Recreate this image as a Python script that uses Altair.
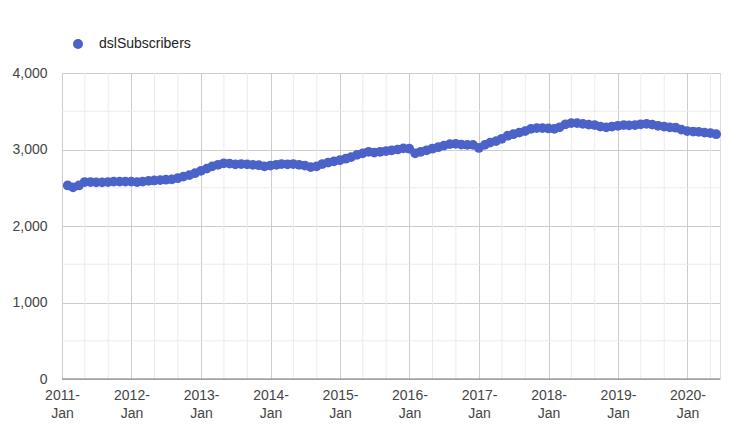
import altair as alt
import pandas as pd

# Monthly observations (month-end dates), 2011-01 .. 2020-05
months = (pd.date_range("2011-01-01", periods=113, freq="MS") + pd.offsets.MonthEnd(0)).strftime("%Y-%m-%d").tolist()
dsl_subscribers = [
    2530, 2505, 2530, 2575, 2575, 2570, 2570, 2575, 2580, 2580, 2580,
    2580, 2575, 2580, 2590, 2595, 2600, 2605, 2610, 2625, 2645, 2665, 2690,
    2720, 2750, 2780, 2800, 2820, 2815, 2805, 2810, 2805, 2800, 2795, 2780,
    2790, 2800, 2810, 2805, 2810, 2800, 2790, 2770, 2780, 2810, 2830, 2845,
    2860, 2880, 2900, 2930, 2950, 2970, 2960, 2970, 2980, 2990, 3000, 3015,
    3010, 2950, 2970, 2990, 3010, 3030, 3050, 3070, 3075, 3065, 3060, 3060,
    3020, 3060, 3090, 3110, 3140, 3180, 3200, 3220, 3240, 3270, 3280, 3280,
    3275, 3270, 3290, 3330, 3345, 3345, 3335, 3325, 3320, 3300, 3290, 3300,
    3310, 3320, 3315, 3320, 3330, 3335, 3325, 3310, 3300, 3290, 3285, 3260,
    3240, 3235, 3230, 3220, 3215, 3200,
]
series_name = "dslSubscribers"

axis_start = "2011-01-01"
axis_end = "2020-06-20"
major_years = list(range(2011, 2021))
minor_x_dates = [d for d in pd.date_range("2011-01-01", "2020-06-01", freq="MS").strftime("%Y-%m-%d")
                 if d[5:7] in ("05", "09")]
major_y_ticks = [0, 1000, 2000, 3000, 4000]
minor_y_ticks = [500, 1500, 2500, 3500]

def ms(s):
    return int(pd.Timestamp(s).value // 10**6)

df = pd.DataFrame({"month": months, "value": dsl_subscribers, "series": series_name})

FONT = "Liberation Sans"
BLUE = "#4b63c8"

xscale = alt.Scale(type="utc", domain=[ms(axis_start), ms(axis_end)], nice=False, padding=0)
yscale = alt.Scale(domain=[0, 4000], nice=False)

xaxis = alt.Axis(
    values=[ms(f"{y}-01-01") for y in major_years],
    labelExpr="[utcFormat(datum.value, '%Y-'), utcFormat(datum.value, '%b')]",
    grid=True, gridColor="#cccccc", domain=False, ticks=False, tickSize=0,
    labelPadding=9, labelLineHeight=18, labelFont=FONT, labelFontSize=14,
    labelColor="#444444", labelBaseline="top", labelFlush=False, title=None,
)
yaxis = alt.Axis(
    values=major_y_ticks, format=",.0f", grid=True, gridColor="#cccccc",
    domain=False, ticks=False, tickSize=0, labelPadding=15, labelFont=FONT,
    labelFontSize=14, labelColor="#444444", title=None,
)

X = alt.X("month:T", scale=xscale, axis=xaxis)
Y = alt.Y("value:Q", scale=yscale, axis=yaxis)

minor_v = alt.Chart(pd.DataFrame({"month": minor_x_dates})).mark_rule(
    color="#ebebeb", strokeWidth=1).encode(x=X)
minor_h = alt.Chart(pd.DataFrame({"value": minor_y_ticks})).mark_rule(
    color="#ebebeb", strokeWidth=1).encode(y=Y)
baseline = alt.Chart(pd.DataFrame({"value": [0]})).mark_rule(
    color="#777777", strokeWidth=1).encode(y=Y)

points = alt.Chart(df).mark_circle(size=95, opacity=1).encode(
    x=X, y=Y,
    color=alt.Color("series:N", scale=alt.Scale(range=[BLUE]), legend=alt.Legend(
        orient="none", legendX=9, legendY=-36, title=None, symbolType="circle",
        symbolSize=100, symbolOpacity=1, labelFont=FONT, labelFontSize=14,
        labelColor="#222222", labelOffset=14, padding=0)),
)

chart = alt.layer(minor_v, minor_h, baseline, points).properties(
    width=658, height=306, autosize="none",
    padding={"left": 54, "top": 65, "right": 15, "bottom": 40},
).configure_view(stroke=None).configure(font=FONT)

chart.save("out.html", embed_options={"renderer": "svg", "actions": False})
